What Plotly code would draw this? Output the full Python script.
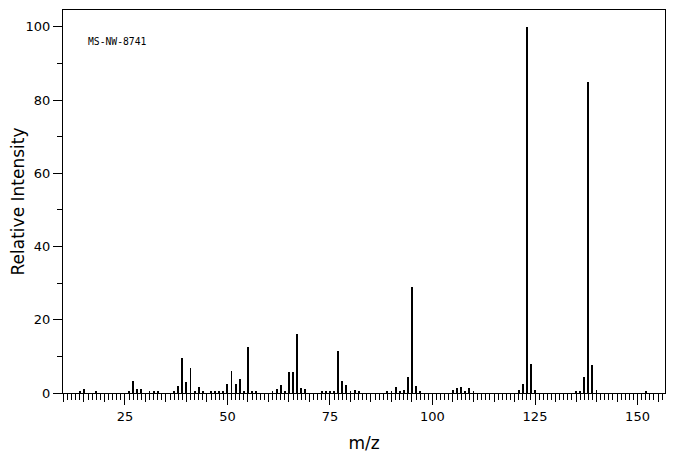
import plotly.graph_objects as go

mz = [14, 15, 18, 26, 27, 28, 29, 31, 32, 33, 37, 38, 39, 40, 41, 42, 43, 44,
      46, 47, 48, 49, 50, 51, 52, 53, 54, 55, 56, 57, 61, 62, 63, 64, 65, 66,
      67, 68, 69, 73, 74, 75, 76, 77, 78, 79, 80, 81, 82, 89, 90, 91, 92, 93,
      94, 95, 96, 97, 105, 106, 107, 108, 109, 110, 121, 122, 123, 124, 125,
      135, 136, 137, 138, 139, 140, 152]
intensity = [0.4, 1.2, 0.6, 0.6, 3.4, 1.2, 1.2, 0.6, 0.4, 0.4, 0.6, 2.0, 9.6, 3.1,
             6.9, 0.6, 1.7, 0.4, 0.4, 0.4, 0.4, 0.4, 2.5, 6.1, 2.5, 3.9, 0.6, 12.7,
             0.6, 0.4, 0.6, 1.2, 2.3, 0.6, 5.8, 5.8, 16.2, 1.5, 1.2, 0.4, 0.6, 0.4,
             0.4, 11.6, 3.4, 2.3, 0.4, 0.9, 0.4, 0.4, 0.4, 1.7, 0.4, 0.7, 4.3, 29.0,
             2.0, 0.4, 0.7, 1.5, 1.7, 0.4, 1.5, 0.4, 0.7, 2.5, 100.0, 8.0, 0.9,
             0.4, 0.6, 4.5, 85.0, 7.7, 0.9, 0.4]

x_ticks = [25, 50, 75, 100, 125, 150]
y_ticks = [0, 20, 40, 60, 80, 100]
x_range = [9.9, 156.7]
y_range = [0, 104.6]
label = "MS-NW-8741"

font_main = "DejaVu Sans"

fig = go.Figure()
fig.add_trace(go.Bar(x=mz, y=intensity, width=0.22,
                     marker=dict(color="black", line=dict(width=0)),
                     showlegend=False))
# invisible trace to activate the unit-tick overlay axis
fig.add_trace(go.Scatter(x=[x_range[0]], y=[0], xaxis="x2", yaxis="y",
                         mode="markers", marker=dict(opacity=0),
                         showlegend=False, hoverinfo="skip"))

fig.update_layout(
    width=668, height=447,
    margin=dict(l=55, r=11, t=2, b=62),
    paper_bgcolor="white", plot_bgcolor="white",
    font=dict(family=font_main, color="black", size=13),
    xaxis=dict(
        range=x_range, tickmode="array", tickvals=x_ticks,
        ticktext=[str(v) for v in x_ticks],
        ticks="outside", ticklen=11, tickwidth=1, tickcolor="black",
        minor=dict(dtick=5, tick0=0, ticks="outside", ticklen=8,
                   tickwidth=1, tickcolor="black"),
        showline=True, linecolor="black", linewidth=1, mirror=True,
        showgrid=False, zeroline=False, automargin=False,
        title=dict(text="m/z", font=dict(size=17), standoff=14),
        tickfont=dict(size=13),
    ),
    xaxis2=dict(
        range=x_range, overlaying="x", anchor="y", side="bottom",
        tick0=0, dtick=1, ticks="outside", ticklen=6, tickwidth=1,
        tickcolor="black", showticklabels=False, showline=False,
        showgrid=False, zeroline=False, automargin=False,
    ),
    yaxis=dict(
        range=y_range, tickmode="array", tickvals=y_ticks,
        ticktext=[str(v) for v in y_ticks],
        ticks="outside", ticklen=9, tickwidth=1, tickcolor="black",
        minor=dict(dtick=10, tick0=0, ticks="outside", ticklen=5,
                   tickwidth=1, tickcolor="black"),
        showline=True, linecolor="black", linewidth=1, mirror=True,
        showgrid=False, zeroline=False, automargin=False,
        title=dict(text="Relative Intensity", font=dict(size=17), standoff=0),
        tickfont=dict(size=13),
    ),
    annotations=[dict(text=label, xref="paper", yref="paper",
                      x=0.039, y=0.919, xanchor="left", yanchor="middle",
                      showarrow=False,
                      font=dict(family="DejaVu Sans Mono", size=9.7, color="black"))],
    bargap=0,
)

fig.write_html("out.html")
